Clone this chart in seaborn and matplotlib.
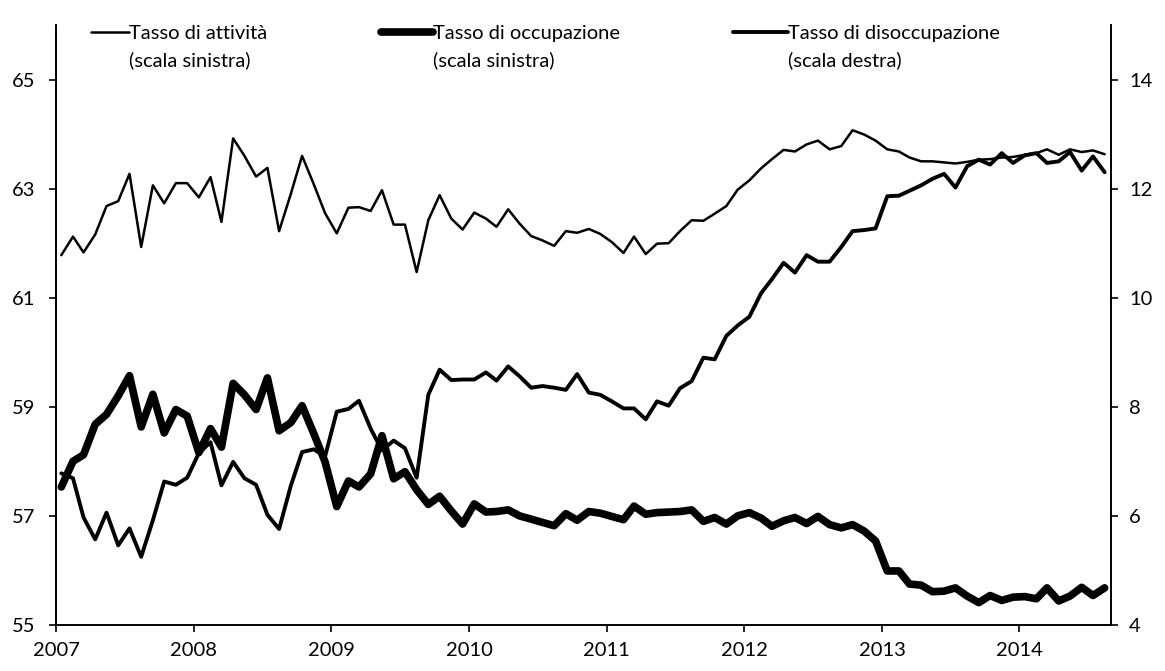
import numpy as np
import pandas as pd
import matplotlib
matplotlib.use("Agg")
import matplotlib.pyplot as plt
import matplotlib.dates as mdates
import seaborn as sns
from matplotlib.legend_handler import HandlerLine2D

# monthly data, Jan 2007 - Aug 2014
mesi = pd.date_range("2007-01-01", periods=92, freq="MS") + pd.Timedelta(days=14)

tasso_attivita = [
    61.78, 62.12, 61.83, 62.16, 62.68, 62.77, 63.27, 61.93, 63.06, 62.73,
    63.10, 63.10, 62.84, 63.21, 62.39, 63.92, 63.60, 63.22, 63.38, 62.22,
    62.90, 63.60, 63.08, 62.55, 62.18, 62.65, 62.66, 62.59, 62.97, 62.34,
    62.34, 61.47, 62.42, 62.88, 62.45, 62.25, 62.56, 62.45, 62.30, 62.62,
    62.36, 62.13, 62.05, 61.95, 62.22, 62.19, 62.26, 62.17, 62.02, 61.82,
    62.12, 61.80, 61.99, 62.00, 62.22, 62.42, 62.41, 62.54, 62.68, 62.98,
    63.15, 63.37, 63.54, 63.71, 63.68, 63.81, 63.88, 63.72, 63.78, 64.07,
    63.99, 63.88, 63.72, 63.68, 63.57, 63.50, 63.50, 63.48, 63.46, 63.49,
    63.53, 63.54, 63.57, 63.58, 63.62, 63.65, 63.72, 63.62, 63.72, 63.67,
    63.70, 63.63,
]

tasso_occupazione = [
    57.53, 58.00, 58.12, 58.68, 58.86, 59.20, 59.57, 58.63, 59.23, 58.52,
    58.95, 58.83, 58.16, 58.60, 58.26, 59.43, 59.22, 58.95, 59.53, 58.56,
    58.71, 59.02, 58.51, 57.99, 57.17, 57.64, 57.53, 57.77, 58.47, 57.68,
    57.81, 57.48, 57.21, 57.36, 57.09, 56.85, 57.22, 57.07, 57.08, 57.11,
    57.00, 56.94, 56.88, 56.82, 57.04, 56.92, 57.08, 57.05, 56.99, 56.93,
    57.18, 57.03, 57.06, 57.07, 57.08, 57.11, 56.90, 56.97, 56.85, 57.00,
    57.06, 56.96, 56.81, 56.91, 56.97, 56.86, 56.99, 56.84, 56.78, 56.84,
    56.72, 56.54, 55.99, 55.99, 55.75, 55.73, 55.61, 55.62, 55.68, 55.53,
    55.41, 55.54, 55.45, 55.51, 55.52, 55.48, 55.68, 55.44, 55.53, 55.69,
    55.54, 55.68,
]

tasso_disoccupazione = [
    6.78, 6.69, 5.97, 5.57, 6.06, 5.46, 5.77, 5.25, 5.92, 6.63,
    6.57, 6.70, 7.15, 7.35, 6.56, 6.99, 6.69, 6.57, 6.02, 5.76,
    6.55, 7.17, 7.22, 7.09, 7.91, 7.96, 8.11, 7.60, 7.20, 7.38,
    7.24, 6.70, 8.22, 8.68, 8.49, 8.50, 8.50, 8.63, 8.48, 8.74,
    8.56, 8.35, 8.38, 8.35, 8.31, 8.60, 8.26, 8.22, 8.10, 7.97,
    7.97, 7.77, 8.10, 8.02, 8.34, 8.47, 8.90, 8.87, 9.30, 9.49,
    9.65, 10.08, 10.34, 10.64, 10.46, 10.78, 10.66, 10.66, 10.93, 11.22,
    11.24, 11.27, 11.86, 11.87, 11.96, 12.06, 12.18, 12.27, 12.02, 12.41,
    12.53, 12.44, 12.65, 12.47, 12.61, 12.65, 12.47, 12.50, 12.67, 12.33,
    12.59, 12.30,
]

etichette = [
    "Tasso di attività\n(scala sinistra)",
    "Tasso di occupazione\n(scala sinistra)",
    "Tasso di disoccupazione\n(scala destra)",
]
ticks_sx = [55, 57, 59, 61, 63, 65]
ticks_dx = [4, 6, 8, 10, 12, 14]


class HandlerAlto(HandlerLine2D):
    """Line sample lifted to the first line of a two-line label."""

    def __init__(self, shift, **kw):
        super().__init__(**kw)
        self.shift = shift

    def create_artists(self, legend, orig_handle, xdescent, ydescent,
                       width, height, fontsize, trans):
        arts = super().create_artists(legend, orig_handle, xdescent, ydescent,
                                      width, height, fontsize, trans)
        for a in arts:
            a.set_ydata(np.asarray(a.get_ydata()) + self.shift)
        return arts


df = pd.DataFrame({
    "mese": mesi,
    "attivita": tasso_attivita,
    "occupazione": tasso_occupazione,
    "disoccupazione": tasso_disoccupazione,
})

sns.set_theme(style="white")
plt.rcParams["font.family"] = ["Lato", "DejaVu Sans"]

fig = plt.figure(figsize=(11.65, 6.71), dpi=100)
ax = fig.add_axes([0.0481, 0.0686, 0.9056, 0.8942])
ax2 = ax.twinx()

sns.lineplot(data=df, x="mese", y="attivita", ax=ax, color="black",
             linewidth=1.8, legend=False)
sns.lineplot(data=df, x="mese", y="occupazione", ax=ax, color="black",
             linewidth=5.5, legend=False)
sns.lineplot(data=df, x="mese", y="disoccupazione", ax=ax2, color="black",
             linewidth=2.8, legend=False)

ax.set_ylim(55, 66)
ax2.set_ylim(4, 15)
ax.set_yticks(ticks_sx)
ax2.set_yticks(ticks_dx)
ax.set_xlim(pd.Timestamp("2007-01-01"), pd.Timestamp("2014-09-01"))
ax.xaxis.set_major_locator(mdates.YearLocator())
ax.xaxis.set_major_formatter(mdates.DateFormatter("%Y"))

for a in (ax, ax2):
    a.set_xlabel("")
    a.set_ylabel("")
    a.spines["top"].set_visible(False)
    for s in ("left", "right", "bottom"):
        a.spines[s].set_color("black")
        a.spines[s].set_linewidth(1.2)

ax.tick_params(axis="y", left=True, direction="out", length=5, width=1.2,
               colors="black", labelsize=14.5, pad=10)
ax.tick_params(axis="x", bottom=True, direction="out", length=5, width=1.2,
               colors="black", labelsize=14.5, pad=7)
ax2.tick_params(axis="y", right=True, left=False, direction="out", length=5,
                width=1.2, colors="black", labelsize=14.5, pad=8)

# legend: three separate entries across the top
handles = [ax.lines[0], ax.lines[1], ax2.lines[0]]
posizioni = [0.033, 0.308, 0.642]
lunghezze = [1.9, 2.6, 2.7]
legende = []
for h, lab, px, hl in zip(handles, etichette, posizioni, lunghezze):
    leg = ax2.legend([h], [lab], loc="upper left", bbox_to_anchor=(px, 1.0),
                     frameon=False, fontsize=14.5, handlelength=hl,
                     handletextpad=0.0, borderpad=0.0, borderaxespad=0.0,
                     labelcolor="black",
                     handler_map={h: HandlerAlto(11.0)})
    for t in leg.get_texts():
        t.set_linespacing(1.65)
    legende.append(leg)
for leg in legende[:-1]:
    ax2.add_artist(leg)

fig.savefig("out.png", dpi=100, facecolor="white")
